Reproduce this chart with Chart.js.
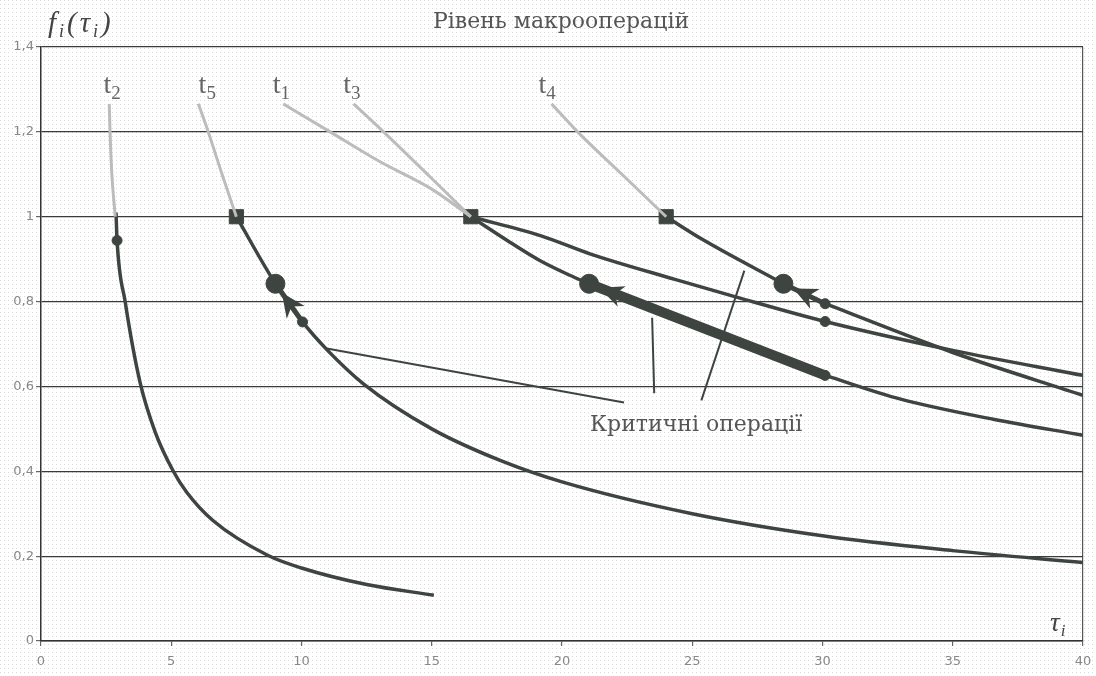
<!DOCTYPE html>
<html lang="uk">
<head>
<meta charset="UTF-8">
<title>Рівень макрооперацій</title>
<script src="https://cdn.jsdelivr.net/npm/chart.js"></script>
<style>
  html, body { margin: 0; padding: 0; background: #fff; }
</style>
</head>
<body>
<canvas id="chart" width="1096" height="676"></canvas>
<script>
// axis ticks
const xTicks = [0, 5, 10, 15, 20, 25, 30, 35, 40];
const yTicks = [0, 0.2, 0.4, 0.6, 0.8, 1, 1.2, 1.4];

// grey lead-in of every curve (above f = 1)
const t2InTau = [2.62, 2.65, 2.72, 2.85];
const t2InF   = [1.266, 1.2, 1.1, 1.0];
const t5InTau = [6.04, 6.42, 6.95, 7.5];
const t5InF   = [1.266, 1.2, 1.1, 1.0];
const t1InTau = [9.3, 11.1, 13.0, 15.0, 16.5];
const t1InF   = [1.266, 1.2, 1.13, 1.065, 1.0];
const t3InTau = [12.0, 13.15, 15.0, 16.5];
const t3InF   = [1.266, 1.2, 1.09, 1.0];
const t4InTau = [19.6, 20.6, 22.3, 24.0];
const t4InF   = [1.266, 1.2, 1.1, 1.0];

// dark working part of the curves
const t2Tau = [2.88, 2.92, 3.23, 3.8, 4.38, 5.08, 5.6, 6.6, 8.7, 10.0, 12.5, 15.08];
const t2F   = [1.01, 0.944, 0.8, 0.61, 0.493, 0.4, 0.35, 0.284, 0.202, 0.172, 0.133, 0.108];
const t5Tau = [7.5, 9.0, 10.04, 11.0, 12.4, 15.0, 17.65, 20, 25, 30, 35, 40];
const t5F   = [1.0, 0.842, 0.752, 0.685, 0.605, 0.5, 0.425, 0.375, 0.30, 0.248, 0.213, 0.185];
const t1Tau = [16.5, 19.2, 21.1, 24.3, 26.9, 30.1, 35, 40];
const t1F   = [1.0, 0.955, 0.912, 0.853, 0.807, 0.753, 0.685, 0.626];
const t3Tau = [16.5, 18.0, 19.2, 20.3, 21.04];
const t3F   = [1.0, 0.94, 0.895, 0.862, 0.842];
const t3TailTau = [30.1, 33, 36.6, 40];
const t3TailF   = [0.626, 0.57, 0.522, 0.485];
const t4Tau = [24.0, 25.35, 28.5];
const t4F   = [1.0, 0.948, 0.842];
const t4TailTau = [30.1, 35, 40];
const t4TailF   = [0.795, 0.68, 0.579];

// markers
const squareTau = [7.5, 16.5, 24.0];
const squareF   = [1.0, 1.0, 1.0];
const bigTau = [9.0, 21.04, 28.5];
const bigF   = [0.842, 0.842, 0.842];
const dotTau = [2.92, 10.04, 30.1, 30.1, 30.1];
const dotF   = [0.944, 0.752, 0.753, 0.795, 0.626];

// arrows of the critical operations (t5, t3, t4)
const arrowFromTau = [10.04, 30.1, 30.1];
const arrowFromF   = [0.752, 0.626, 0.795];
const arrowToTau   = [9.0, 21.04, 28.5];
const arrowToF     = [0.842, 0.842, 0.842];

// pointer lines from the caption
const ptrFromTau = [22.38, 23.54, 25.35];
const ptrFromF   = [0.562, 0.584, 0.567];
const ptrToTau   = [10.92, 23.46, 27.0];
const ptrToF     = [0.69, 0.762, 0.873];

// curve names above the grey lead-ins
const curveNames = ['2', '5', '1', '3', '4'];
const nameTau = [2.4, 6.05, 8.9, 11.6, 19.1];
const nameF = 1.31;

const pts = (xs, ys) => xs.map((x, i) => ({ x: x, y: ys[i] }));
const dark = '#3e4540';
const grey = '#bcbcbc';

function curve(xs, ys, color, width) {
    return {
        data: pts(xs, ys),
        showLine: true,
        borderColor: color,
        borderWidth: width,
        pointRadius: 0,
        cubicInterpolationMode: 'monotone',
        fill: false
    };
}
function segment(x0, y0, x1, y1, width) {
    return {
        data: [{ x: x0, y: y0 }, { x: x1, y: y1 }],
        showLine: true,
        borderColor: dark,
        borderWidth: width,
        pointRadius: 0,
        fill: false
    };
}
function markers(xs, ys, style, r) {
    return {
        data: pts(xs, ys),
        showLine: false,
        pointStyle: style,
        pointRadius: r,
        backgroundColor: dark,
        borderColor: dark,
        borderWidth: 1
    };
}

const datasets = [
    curve(t2InTau, t2InF, grey, 3),
    curve(t5InTau, t5InF, grey, 3),
    curve(t1InTau, t1InF, grey, 3),
    curve(t3InTau, t3InF, grey, 3),
    curve(t4InTau, t4InF, grey, 3),
    curve(t2Tau, t2F, dark, 3.5),
    curve(t5Tau, t5F, dark, 3.5),
    curve(t1Tau, t1F, dark, 3.5),
    curve(t3Tau, t3F, dark, 3.5),
    curve(t3TailTau, t3TailF, dark, 3.5),
    curve(t4Tau, t4F, dark, 3.5),
    curve(t4TailTau, t4TailF, dark, 3.5)
];
ptrFromTau.forEach((v, i) => datasets.push(segment(v, ptrFromF[i], ptrToTau[i], ptrToF[i], 2)));
const shaftWidths = [5, 10, 5];
arrowFromTau.forEach((v, i) => datasets.push(segment(v, arrowFromF[i], arrowToTau[i], arrowToF[i], shaftWidths[i])));
datasets.push(markers(squareTau, squareF, 'rect', 10));
datasets.push(markers(bigTau, bigF, 'circle', 9.5));
datasets.push(markers(dotTau, dotF, 'circle', 5));

// scanned halftone look
const dotBg = {
    id: 'dotBg',
    beforeDraw(chart) {
        const c = chart.ctx;
        const p = document.createElement('canvas');
        p.width = 4; p.height = 4;
        const pc = p.getContext('2d');
        pc.fillStyle = 'rgba(80,80,80,0.22)';
        pc.fillRect(0, 0, 1, 1);
        c.save();
        c.fillStyle = '#fff';
        c.fillRect(0, 0, chart.width, chart.height);
        c.fillStyle = c.createPattern(p, 'repeat');
        c.fillRect(0, 0, chart.width, chart.height);
        c.restore();
    }
};

const arrowHeads = {
    id: 'arrowHeads',
    afterDatasetsDraw(chart) {
        const { ctx, scales: { x, y } } = chart;
        arrowToTau.forEach((tt, i) => {
            const x0 = x.getPixelForValue(arrowFromTau[i]), y0 = y.getPixelForValue(arrowFromF[i]);
            const x1 = x.getPixelForValue(tt), y1 = y.getPixelForValue(arrowToF[i]);
            const a = Math.atan2(y1 - y0, x1 - x0);
            ctx.save();
            ctx.translate(x1 - Math.cos(a) * 11, y1 - Math.sin(a) * 11);
            ctx.rotate(a);
            ctx.beginPath();
            ctx.moveTo(0, 0);
            ctx.lineTo(-24, -11);
            ctx.lineTo(-17, 0);
            ctx.lineTo(-24, 11);
            ctx.closePath();
            ctx.fillStyle = dark;
            ctx.fill();
            ctx.restore();
        });
    }
};

function subText(ctx, parts, x, y, gap) {
    // parts: [text, fontSize, italic, baselineShift]
    parts.forEach(p => {
        ctx.font = (p[2] ? 'italic ' : '') + p[1] + 'px "Liberation Serif"';
        ctx.fillText(p[0], x, y + p[3]);
        x += ctx.measureText(p[0]).width + (gap || 0);
    });
}

const texts = {
    id: 'texts',
    afterDraw(chart) {
        const { ctx, scales: { x, y } } = chart;
        ctx.save();
        ctx.fillStyle = '#555';
        ctx.textBaseline = 'alphabetic';
        ctx.textAlign = 'center';
        ctx.font = '22px "DejaVu Serif"';
        ctx.fillText('Рівень макрооперацій', 561, 28);
        ctx.fillText('Критичні операції', x.getPixelForValue(25.15), y.getPixelForValue(0.495));

        ctx.textAlign = 'left';
        ctx.fillStyle = '#444';
        subText(ctx, [['f', 29, true, 0], ['i', 18, true, 5], ['(', 29, true, 0], ['τ', 29, true, 0], ['i', 18, true, 5], [')', 29, true, 0]], 48, 32, 3);
        subText(ctx, [['τ', 27, true, 0], ['i', 17, true, 5]], 1050, 631, 1);

        ctx.fillStyle = '#666';
        curveNames.forEach((n, i) => {
            subText(ctx, [['t', 28, false, 0], [n, 19, false, 6]], x.getPixelForValue(nameTau[i]), y.getPixelForValue(nameF) + 8, 0);
        });
        ctx.restore();
    }
};

new Chart(document.getElementById('chart'), {
    type: 'scatter',
    data: { datasets: datasets },
    options: {
        responsive: false,
        animation: false,
        layout: { padding: { top: 47, right: 13, left: 0, bottom: 0 } },
        plugins: { legend: { display: false }, tooltip: { enabled: false }, title: { display: false } },
        scales: {
            x: {
                type: 'linear', min: 0, max: 40,
                afterBuildTicks: s => { s.ticks = xTicks.map(v => ({ value: v })); },
                afterFit: s => { s.height = 35; s.paddingRight = 0; s.paddingLeft = 0; },
                ticks: { color: '#888', padding: 8, font: { family: 'DejaVu Sans', size: 13 } },
                grid: {
                    drawOnChartArea: true,
                    color: c => (c.tick && c.tick.value === 40) ? '#555' : 'rgba(0,0,0,0)',
                    tickColor: '#666', tickLength: 5, lineWidth: 1.2
                },
                border: { color: '#333', width: 1.5 }
            },
            y: {
                type: 'linear', min: 0, max: 1.4,
                afterBuildTicks: s => { s.ticks = yTicks.map(v => ({ value: v })); },
                afterFit: s => { s.width = 41; },
                ticks: {
                    color: '#888', padding: 2, font: { family: 'DejaVu Sans', size: 13 },
                    callback: v => String(Math.round(v * 10) / 10).replace('.', ',')
                },
                grid: { color: '#3a3a3a', lineWidth: 1.2, tickColor: '#666', tickLength: 5 },
                border: { color: '#333', width: 1.5 }
            }
        }
    },
    plugins: [dotBg, arrowHeads, texts]
});
</script>
</body>
</html>
